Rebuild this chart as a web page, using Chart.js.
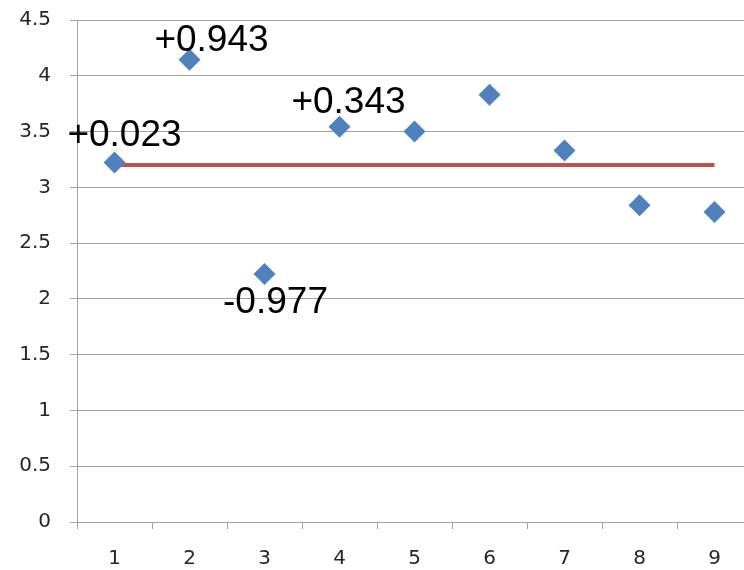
<!DOCTYPE html>
<html>
<head>
<meta charset="utf-8">
<script src="https://cdn.jsdelivr.net/npm/chart.js@4"></script>
<style>
  html, body { margin: 0; padding: 0; background: #fff; overflow: hidden; }
  #wrap { width: 760px; height: 570px; overflow: hidden; }
  canvas { display: block; }
</style>
</head>
<body>
<div id="wrap"><canvas id="c" width="752" height="570" style="width:752px;height:570px"></canvas></div>
<script>
// ---- data ----
const categories = ['1', '2', '3', '4', '5', '6', '7', '8', '9'];
const pointValues = [3.223, 4.143, 2.223, 3.543, 3.50, 3.83, 3.33, 2.84, 2.78];
const meanValues = [3.2, 3.2, 3.2, 3.2, 3.2, 3.2, 3.2, 3.2, 3.2];
const deviationLabels = ['+0.023', '+0.943', '-0.977', '+0.343', null, null, null, null, null];
const yTicks = [0, 0.5, 1, 1.5, 2, 2.5, 3, 3.5, 4, 4.5];

// label placement relative to the data point (style, not data)
const labelOffsets = [[10, -16], [22, -9], [11, 39], [9, -14]];

const annotationPlugin = {
  id: 'devLabels',
  afterDatasetsDraw(chart) {
    const meta = chart.getDatasetMeta(0);
    const ctx = chart.ctx;
    ctx.save();
    ctx.font = '37px "Liberation Sans", Arial, sans-serif';
    ctx.fillStyle = '#000';
    ctx.textAlign = 'center';
    ctx.textBaseline = 'alphabetic';
    deviationLabels.forEach((t, i) => {
      if (!t) return;
      const el = meta.data[i];
      const off = labelOffsets[i] || [0, -14];
      ctx.fillText(t, el.x + off[0], el.y + off[1]);
    });
    ctx.restore();
  }
};

const tickFont = { family: '"DejaVu Sans", sans-serif', size: 20 };
const gridColor = '#a3a3a3';
const tickColor = '#262626';

new Chart(document.getElementById('c'), {
  type: 'line',
  data: {
    labels: categories,
    datasets: [
      {
        label: 'values',
        data: pointValues,
        showLine: false,
        pointStyle: 'rectRot',
        pointRadius: 11,
        pointHoverRadius: 11,
        pointBackgroundColor: '#4F81BD',
        pointBorderWidth: 0,
        borderColor: '#4F81BD',
        clip: false,
        order: 0
      },
      {
        label: 'mean',
        data: meanValues,
        borderColor: '#C0504D',
        borderWidth: 4,
        pointRadius: 0,
        fill: false,
        tension: 0,
        order: 1
      }
    ]
  },
  options: {
    responsive: false,
    animation: false,
    devicePixelRatio: 1,
    layout: { autoPadding: false, padding: { top: 20, left: 0, right: 0, bottom: 0 } },
    plugins: {
      legend: { display: false },
      tooltip: { enabled: false },
      title: { display: false }
    },
    scales: {
      x: {
        type: 'category',
        offset: true,
        grid: {
          offset: true,
          drawOnChartArea: false,
          drawTicks: true,
          tickLength: 7,
          color: gridColor,
          lineWidth: 1
        },
        border: { display: true, color: gridColor, width: 1 },
        ticks: { font: tickFont, color: tickColor, padding: 18, maxRotation: 0, autoSkip: false },
        afterFit(scale) {
          scale.height = 48;
          scale.paddingLeft = 0; scale.paddingRight = 0;
          scale.paddingTop = 0; scale.paddingBottom = 0;
        }
      },
      y: {
        min: 0,
        max: 4.5,
        afterBuildTicks(scale) { scale.ticks = yTicks.map(v => ({ value: v })); },
        grid: {
          color: gridColor,
          lineWidth: 1,
          drawTicks: true,
          tickLength: 7
        },
        border: { display: true, color: gridColor, width: 1 },
        ticks: {
          font: tickFont,
          color: tickColor,
          padding: 19,
          callback: (v) => String(v)
        },
        afterFit(scale) {
          scale.width = 77;
          scale.paddingLeft = 0; scale.paddingRight = 0;
          scale.paddingTop = 0; scale.paddingBottom = 0;
        }
      }
    }
  },
  plugins: [annotationPlugin]
});
</script>
</body>
</html>
